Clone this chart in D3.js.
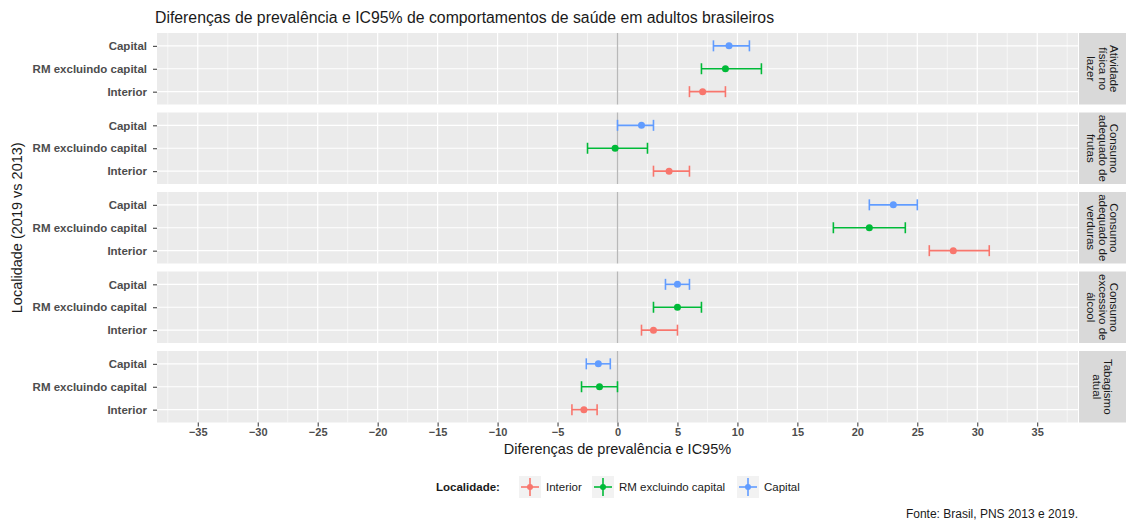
<!DOCTYPE html>
<html>
<head>
<meta charset="utf-8">
<script src="https://cdn.jsdelivr.net/npm/d3@7"></script>
<style>
  html, body { margin: 0; padding: 0; background: #ffffff; }
  svg { display: block; font-family: "Liberation Sans", Arial, Helvetica, sans-serif; }
</style>
</head>
<body>
<svg id="chart" width="1128" height="520"></svg>
<script>
// Facets (top to bottom), each strip label split into its lines
const facetLabels = [
  ["Atividade", "física no", "lazer"],
  ["Consumo", "adequado de", "frutas"],
  ["Consumo", "adequado de", "verduras"],
  ["Consumo", "excessivo de", "álcool"],
  ["Tabagismo", "atual"]
];

// Rows inside each facet, top to bottom
const localidades = ["Capital", "RM excluindo capital", "Interior"];
// Legend order
const legendOrder = ["Interior", "RM excluindo capital", "Capital"];
const colors = { "Interior": "#F8766D", "RM excluindo capital": "#00BA38", "Capital": "#619CFF" };

// Differences (2019 vs 2013) and 95% CI, one value per facet
const capitalEst = [9.3, 2.0, 23.0, 5.0, -1.6];
const capitalLo  = [8.0, 0.0, 21.0, 4.0, -2.6];
const capitalHi  = [11.0, 3.0, 25.0, 6.0, -0.6];

const rmEst = [9.0, -0.2, 21.0, 5.0, -1.5];
const rmLo  = [7.0, -2.5, 18.0, 3.0, -3.0];
const rmHi  = [12.0, 2.5, 24.0, 7.0, 0.0];

const interiorEst = [7.1, 4.3, 28.0, 3.0, -2.8];
const interiorLo  = [6.0, 3.0, 26.0, 2.0, -3.8];
const interiorHi  = [9.0, 6.0, 31.0, 5.0, -1.7];

const xTicks = [-35, -30, -25, -20, -15, -10, -5, 0, 5, 10, 15, 20, 25, 30, 35];
const xMinor = [-37.5, -32.5, -27.5, -22.5, -17.5, -12.5, -7.5, -2.5, 2.5, 7.5, 12.5, 17.5, 22.5, 27.5, 32.5, 37.5];

const series = {
  "Capital": { est: capitalEst, lo: capitalLo, hi: capitalHi },
  "RM excluindo capital": { est: rmEst, lo: rmLo, hi: rmHi },
  "Interior": { est: interiorEst, lo: interiorLo, hi: interiorHi }
};

const rows = [];
facetLabels.forEach((f, i) => {
  localidades.forEach(loc => {
    rows.push({ facet: i, loc, est: series[loc].est[i], lo: series[loc].lo[i], hi: series[loc].hi[i] });
  });
});

// Layout
const panelLeft = 157, panelRight = 1078;
const panelTop = 33, panelH = 71.5, panelGap = 8;
const stripW = 47;

const svg = d3.select("#chart");
const x = d3.scaleLinear().domain([-38.4, 38.4]).range([panelLeft, panelRight]);

const textDark = "#4d4d4d";
const font = "'Liberation Sans', Arial, sans-serif";

facetLabels.forEach((lines, i) => {
  const top = panelTop + i * (panelH + panelGap);
  const y = d3.scalePoint().domain(localidades).range([top, top + panelH]).padding(0.56);
  const g = svg.append("g");

  g.append("rect").attr("x", panelLeft).attr("y", top)
    .attr("width", panelRight - panelLeft).attr("height", panelH).attr("fill", "#ebebeb");

  // minor and major grid lines
  g.selectAll(".minor").data(xMinor.filter(v => x(v) > panelLeft && x(v) < panelRight)).join("line")
    .attr("x1", d => x(d)).attr("x2", d => x(d)).attr("y1", top).attr("y2", top + panelH)
    .attr("stroke", "#ffffff").attr("stroke-width", 0.6);
  g.selectAll(".major").data(xTicks).join("line")
    .attr("x1", d => x(d)).attr("x2", d => x(d)).attr("y1", top).attr("y2", top + panelH)
    .attr("stroke", "#ffffff").attr("stroke-width", 1.2);
  g.selectAll(".hgrid").data(localidades).join("line")
    .attr("x1", panelLeft).attr("x2", panelRight).attr("y1", d => y(d)).attr("y2", d => y(d))
    .attr("stroke", "#ffffff").attr("stroke-width", 1.2);

  // reference line at zero
  g.append("line").attr("x1", x(0)).attr("x2", x(0)).attr("y1", top).attr("y2", top + panelH)
    .attr("stroke", "#b8b8b8").attr("stroke-width", 1.3);

  // y axis
  const yAxis = d3.axisLeft(y).tickSize(4).tickPadding(6);
  const ya = g.append("g").attr("transform", `translate(${panelLeft},0)`).call(yAxis);
  ya.select(".domain").remove();
  ya.selectAll(".tick line").attr("stroke", "#333333").attr("stroke-width", 1);
  ya.selectAll(".tick text").attr("fill", textDark).attr("font-size", 11.5).attr("font-weight", "bold")
    .attr("font-family", font);

  // error bars and points
  const data = rows.filter(r => r.facet === i);
  const capH = 5.5;
  const eb = g.selectAll(".eb").data(data).join("g").attr("stroke", d => colors[d.loc]).attr("stroke-width", 1.6);
  eb.append("line").attr("x1", d => x(d.lo)).attr("x2", d => x(d.hi)).attr("y1", d => y(d.loc)).attr("y2", d => y(d.loc));
  eb.append("line").attr("x1", d => x(d.lo)).attr("x2", d => x(d.lo)).attr("y1", d => y(d.loc) - capH).attr("y2", d => y(d.loc) + capH);
  eb.append("line").attr("x1", d => x(d.hi)).attr("x2", d => x(d.hi)).attr("y1", d => y(d.loc) - capH).attr("y2", d => y(d.loc) + capH);
  g.selectAll(".pt").data(data).join("circle")
    .attr("cx", d => x(d.est)).attr("cy", d => y(d.loc)).attr("r", 3.5).attr("fill", d => colors[d.loc]);

  // strip on the right
  g.append("rect").attr("x", panelRight + 1).attr("y", top).attr("width", stripW).attr("height", panelH).attr("fill", "#d9d9d9");
  const cx = panelRight + 1 + stripW / 2, cy = top + panelH / 2;
  const lh = 11.5;
  const st = g.append("text").attr("transform", `translate(${cx},${cy}) rotate(90)`)
    .attr("text-anchor", "middle").attr("fill", "#1a1a1a").attr("font-size", 11.5);
  lines.forEach((ln, k) => {
    st.append("tspan").attr("x", 0)
      .attr("y", (k - (lines.length - 1) / 2) * lh + 4)
      .text(ln);
  });
});

// x axis below the last panel
const bottom = panelTop + 5 * panelH + 4 * panelGap;
const xa = svg.append("g").attr("transform", `translate(0,${bottom})`)
  .call(d3.axisBottom(x).tickValues(xTicks).tickSize(4).tickPadding(2).tickFormat(d => d < 0 ? "\u2212" + Math.abs(d) : d));
xa.select(".domain").remove();
xa.selectAll(".tick line").attr("stroke", "#333333");
xa.selectAll(".tick text").attr("fill", textDark).attr("font-size", 11).attr("font-weight", "bold")
  .attr("font-family", font);

// titles
svg.append("text").attr("x", 155).attr("y", 23).attr("font-size", 15.8).attr("fill", "#1a1a1a")
  .text("Diferenças de prevalência e IC95% de comportamentos de saúde em adultos brasileiros");
svg.append("text").attr("x", (panelLeft + panelRight) / 2).attr("y", 454).attr("text-anchor", "middle")
  .attr("font-size", 14.5).attr("fill", "#1a1a1a").text("Diferenças de prevalência e IC95%");
svg.append("text").attr("transform", `translate(22,${(panelTop + bottom) / 2}) rotate(-90)`)
  .attr("text-anchor", "middle").attr("font-size", 14.5).attr("fill", "#1a1a1a").text("Localidade (2019 vs 2013)");

// legend
const lg = svg.append("g").attr("transform", "translate(0,487)");
lg.append("text").attr("x", 436).attr("y", 4).attr("font-size", 11.5).attr("font-weight", "bold").attr("fill", "#1a1a1a").text("Localidade:");
const keyX = { "Interior": 519, "RM excluindo capital": 592, "Capital": 737 };
legendOrder.forEach(loc => {
  const kx = keyX[loc];
  const k = lg.append("g").attr("transform", `translate(${kx},0)`);
  k.append("rect").attr("x", 0).attr("y", -11).attr("width", 22).attr("height", 22).attr("fill", "#f2f2f2");
  k.append("line").attr("x1", 2).attr("x2", 20).attr("y1", 0).attr("y2", 0).attr("stroke", colors[loc]).attr("stroke-width", 1.6);
  k.append("line").attr("x1", 11).attr("x2", 11).attr("y1", -9).attr("y2", 9).attr("stroke", colors[loc]).attr("stroke-width", 1.6);
  k.append("circle").attr("cx", 11).attr("cy", 0).attr("r", 3).attr("fill", colors[loc]);
  lg.append("text").attr("x", kx + 27).attr("y", 4).attr("font-size", 11.5).attr("fill", "#1a1a1a").text(loc);
});

// caption
svg.append("text").attr("x", 1078).attr("y", 518).attr("text-anchor", "end").attr("font-size", 12)
  .attr("fill", "#1a1a1a").text("Fonte: Brasil, PNS 2013 e 2019.");
</script>
</body>
</html>
